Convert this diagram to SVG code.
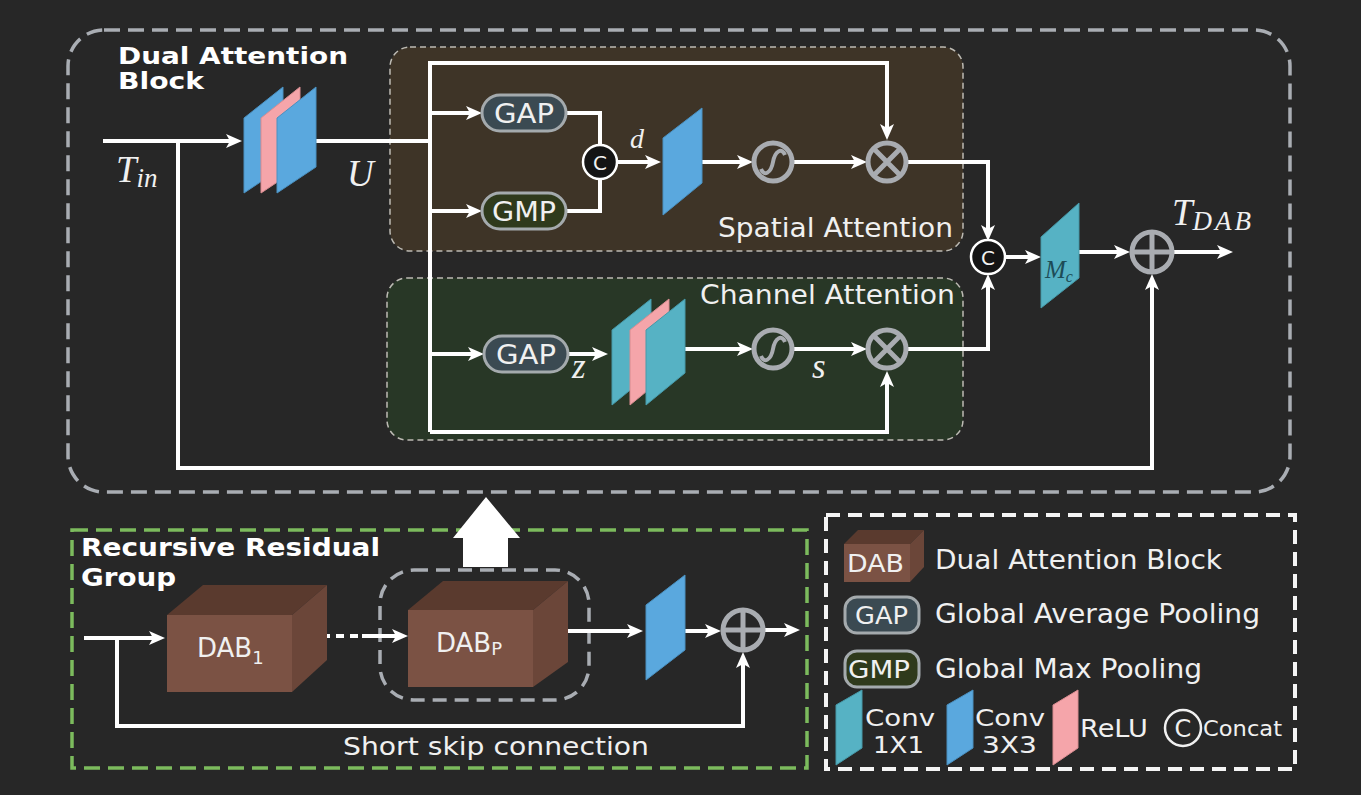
<svg xmlns="http://www.w3.org/2000/svg" width="1361" height="795" viewBox="0 0 1361 795">
<style>
.t{font-family:"DejaVu Sans","Liberation Sans",sans-serif;fill:#f0f0f0}
.b{font-family:"DejaVu Sans","Liberation Sans",sans-serif;font-weight:bold;fill:#ffffff}
.m{font-family:"Liberation Serif","DejaVu Serif",serif;font-style:italic;fill:#f0f0f0}
.ln{fill:none;stroke:#ffffff;stroke-width:4}
.blue{fill:#5aa8de;stroke:#4a90c0;stroke-width:1}
.teal{fill:#56b2c4;stroke:#4699a8;stroke-width:1}
.pink{fill:#f5a5aa;stroke:#d88c90;stroke-width:1}
.gap{fill:#3b4a52;stroke:#a4aaad;stroke-width:3}
.gmp{fill:#2f3a1c;stroke:#a4aaad;stroke-width:3}
.op{fill:none;stroke:#a9acb1;stroke-width:5}
.cc{fill:#141414;stroke:#ffffff;stroke-width:2.5}
.front{fill:#7b5244}
.top{fill:#5a3a2e}
.side{fill:#6b4639}
</style>
<defs>
<marker id="ah" viewBox="0 0 16 14" refX="6" refY="7" markerWidth="16" markerHeight="14" markerUnits="userSpaceOnUse" orient="auto">
<path d="M0,0 L16,7 L0,14 L4,7 z" fill="#ffffff"/>
</marker>
<g id="sig"><circle r="19" class="op" stroke-width="4.5"/><path d="M-12,7 C-9,15 -2,11 0,0 C2,-11 9,-15 12,-7" fill="none" stroke="#a9acb1" stroke-width="4"/></g>
<g id="otimes"><circle r="19" class="op"/><path d="M-13.4,-13.4 L13.4,13.4 M13.4,-13.4 L-13.4,13.4" stroke="#a9acb1" stroke-width="5"/></g>
<g id="oplus"><circle r="20" class="op"/><path d="M-20,0 H20 M0,-20 V20" stroke="#a9acb1" stroke-width="5"/></g>
</defs>
<rect x="0" y="0" width="1361" height="795" fill="#272727"/>

<!-- containers -->
<g id="dab-block">
<rect x="68" y="30" width="1222" height="462" rx="36" fill="none" stroke="#a9adb3" stroke-width="3.5" stroke-dasharray="16 8"/>
<text class="b" x="118" y="64" font-size="23" textLength="230" lengthAdjust="spacingAndGlyphs">Dual Attention</text>
<text class="b" x="118" y="89" font-size="23" textLength="86" lengthAdjust="spacingAndGlyphs">Block</text>
</g>
<g id="spatial-box">
<rect x="390" y="47" width="573" height="204" rx="20" fill="#3e3427" stroke="#bdbbb4" stroke-width="1.5" stroke-dasharray="6 4"/>
<text class="t" x="718" y="237" font-size="26" textLength="235" lengthAdjust="spacingAndGlyphs">Spatial Attention</text>
</g>
<g id="channel-box">
<rect x="387" y="278" width="576" height="162" rx="20" fill="#283726" stroke="#bdbbb4" stroke-width="1.5" stroke-dasharray="6 4"/>
<text class="t" x="700" y="304" font-size="26" textLength="255" lengthAdjust="spacingAndGlyphs">Channel Attention</text>
</g>
<g id="rrg-box">
<rect x="72" y="530" width="735" height="238" fill="none" stroke="#7cbb5d" stroke-width="3.5" stroke-dasharray="16 8"/>
<text class="b" x="81" y="556" font-size="24" textLength="299" lengthAdjust="spacingAndGlyphs">Recursive Residual</text>
<text class="b" x="81" y="586" font-size="24" textLength="95" lengthAdjust="spacingAndGlyphs">Group</text>
</g>
<g id="dabp-box">
<rect x="380" y="570" width="209" height="130" rx="34" fill="none" stroke="#a9adb3" stroke-width="3.5" stroke-dasharray="14 8"/>
</g>
<g id="legend-box">
<rect x="826" y="515" width="469" height="254" fill="none" stroke="#f4f4f4" stroke-width="4" stroke-dasharray="14 8"/>
</g>

<!-- connectors -->
<g id="connectors">
<path class="ln" d="M103,141 H232" marker-end="url(#ah)"/>
<path class="ln" d="M178,141 V468 H1152 V284" marker-end="url(#ah)"/>
<path class="ln" d="M298,141 H430"/>
<path class="ln" d="M430,432 V63 H887 V130" marker-end="url(#ah)"/>
<path class="ln" d="M430,432 H887 V381" marker-end="url(#ah)"/>
<path class="ln" d="M430,113 H472" marker-end="url(#ah)"/>
<path class="ln" d="M430,211 H472" marker-end="url(#ah)"/>
<path class="ln" d="M566,113 H600 V146"/>
<path class="ln" d="M566,211 H600 V178"/>
<path class="ln" d="M617,162 H651" marker-end="url(#ah)"/>
<path class="ln" d="M687,162 H743" marker-end="url(#ah)"/>
<path class="ln" d="M793,162 H857" marker-end="url(#ah)"/>
<path class="ln" d="M908,162 H988 V231" marker-end="url(#ah)"/>
<path class="ln" d="M430,354 H474" marker-end="url(#ah)"/>
<path class="ln" d="M568,354 H598" marker-end="url(#ah)"/>
<path class="ln" d="M672,349 H743" marker-end="url(#ah)"/>
<path class="ln" d="M793,349 H857" marker-end="url(#ah)"/>
<path class="ln" d="M908,349 H988 V284" marker-end="url(#ah)"/>
<path class="ln" d="M1005,257 H1031" marker-end="url(#ah)"/>
<path class="ln" d="M1068,252 H1120" marker-end="url(#ah)"/>
<path class="ln" d="M1174,252 H1223" marker-end="url(#ah)"/>
<path class="ln" d="M84,638 H155" marker-end="url(#ah)"/>
<path class="ln" d="M117,638 V726 H743 V662" marker-end="url(#ah)"/>
<path class="ln" d="M322,636 H330 M336,636 H344 M350,636 H358"/>
<path class="ln" d="M362,636 H398" marker-end="url(#ah)"/>
<path class="ln" d="M565,631 H633" marker-end="url(#ah)"/>
<path class="ln" d="M676,631 H711" marker-end="url(#ah)"/>
<path class="ln" d="M765,630 H790" marker-end="url(#ah)"/>
<polygon points="463,567 508,567 508,538 520,538 486,497 453,538 463,538" fill="#ffffff"/>
</g>

<!-- labels -->
<g id="math-labels">
<text class="m" x="116" y="182" font-size="37">T<tspan font-size="27" dy="5">in</tspan></text>
<text class="m" x="347" y="186" font-size="37">U</text>
<text class="m" x="630" y="148" font-size="28">d</text>
<text class="m" x="572" y="378" font-size="35">z</text>
<text class="m" x="812" y="378" font-size="35">s</text>
<text class="m" x="1172" y="225" font-size="37">T<tspan font-size="27" dy="5" letter-spacing="3">DAB</tspan></text>
</g>

<!-- nodes -->
<g id="conv-stack-in">
<polygon class="blue" points="244,118 283,87 283,167 244,193"/>
<polygon class="pink" points="261,118 300,87 300,167 261,193"/>
<polygon class="blue" points="277,118 316,87 316,167 277,193"/>
</g>
<g id="gap-spatial">
<rect class="gap" x="482" y="95" width="84" height="36" rx="18"/>
<text class="t" x="494" y="123" font-size="26" textLength="60" lengthAdjust="spacingAndGlyphs">GAP</text>
</g>
<g id="gmp-spatial">
<rect class="gmp" x="482" y="193" width="84" height="36" rx="18"/>
<text class="t" x="492" y="221" font-size="26" textLength="64" lengthAdjust="spacingAndGlyphs">GMP</text>
</g>
<g id="concat-spatial">
<circle class="cc" cx="600" cy="162" r="17"/>
<text class="t" x="600" y="169.5" font-size="20" text-anchor="middle">C</text>
</g>
<g id="conv-spatial">
<polygon class="blue" points="663,138 702,108 702,183 663,215"/>
</g>
<g id="sigmoid-spatial"><use href="#sig" x="773" y="162"/></g>
<g id="mult-spatial"><use href="#otimes" x="887" y="162"/></g>

<g id="gap-channel">
<rect class="gap" x="484" y="336" width="84" height="36" rx="18"/>
<text class="t" x="496" y="364" font-size="26" textLength="60" lengthAdjust="spacingAndGlyphs">GAP</text>
</g>
<g id="conv-stack-channel">
<polygon class="teal" points="612,330 651,299 651,373 612,405"/>
<polygon class="pink" points="630,330 669,299 669,373 630,405"/>
<polygon class="teal" points="646,330 685,299 685,373 646,405"/>
</g>
<g id="sigmoid-channel"><use href="#sig" x="773" y="349"/></g>
<g id="mult-channel"><use href="#otimes" x="887" y="349"/></g>

<g id="concat-out">
<circle class="cc" cx="988" cy="257" r="17"/>
<text class="t" x="988" y="264.5" font-size="20" text-anchor="middle">C</text>
</g>
<g id="mc">
<polygon class="teal" points="1041,237 1079,203 1079,278 1041,308"/>
<text x="1045" y="278" font-family="Liberation Serif,serif" font-style="italic" font-size="25" fill="#1d4c57">M<tspan font-size="16" dy="4">c</tspan></text>
</g>
<g id="add-out"><use href="#oplus" x="1152" y="252"/></g>

<g id="dab1">
<polygon class="top" points="167,615 203,585 327,585 292,615"/>
<polygon class="side" points="292,615 327,585 327,660 292,692"/>
<rect class="front" x="167" y="615" width="125" height="77"/>
<text class="t" x="197" y="657" font-size="26">DAB<tspan font-size="18" dy="7">1</tspan></text>
</g>
<g id="dabp">
<polygon class="top" points="408,610 443,581 568,581 533,610"/>
<polygon class="side" points="533,610 568,581 568,662 533,687"/>
<rect class="front" x="408" y="610" width="125" height="77"/>
<text class="t" x="436" y="652" font-size="26">DAB<tspan font-size="18" dy="3">P</tspan></text>
</g>
<g id="conv-rrg">
<polygon class="blue" points="646,605 685,575 685,650 646,680"/>
</g>
<g id="add-rrg"><use href="#oplus" x="743" y="630"/></g>
<g id="skip-label">
<text class="t" x="343" y="755" font-size="25" textLength="306" lengthAdjust="spacingAndGlyphs">Short skip connection</text>
</g>

<!-- legend -->
<g id="legend-dab">
<polygon class="top" points="844,544 858,530 924,530 910,544"/>
<polygon class="side" points="910,544 924,530 924,567 910,582"/>
<rect class="front" x="844" y="544" width="66" height="38"/>
<text class="t" x="847" y="572" font-size="24" textLength="57" lengthAdjust="spacingAndGlyphs" fill="#f3e6e0">DAB</text>
<text class="t" x="935" y="569" font-size="26" textLength="287" lengthAdjust="spacingAndGlyphs">Dual Attention Block</text>
</g>
<g id="legend-gap">
<rect class="gap" x="845" y="597" width="74" height="36" rx="12"/>
<text class="t" x="855" y="624" font-size="25" textLength="53" lengthAdjust="spacingAndGlyphs">GAP</text>
<text class="t" x="935" y="623" font-size="26" textLength="325" lengthAdjust="spacingAndGlyphs">Global Average Pooling</text>
</g>
<g id="legend-gmp">
<rect class="gmp" x="845" y="651" width="74" height="36" rx="12"/>
<text class="t" x="848" y="678" font-size="25" textLength="62" lengthAdjust="spacingAndGlyphs">GMP</text>
<text class="t" x="935" y="678" font-size="26" textLength="267" lengthAdjust="spacingAndGlyphs">Global Max Pooling</text>
</g>
<g id="legend-conv1">
<polygon class="teal" points="836,705 862,690 862,748 836,765"/>
<text class="t" x="865" y="726" font-size="23" textLength="70" lengthAdjust="spacingAndGlyphs">Conv</text>
<text class="t" x="873" y="753" font-size="23" textLength="51" lengthAdjust="spacingAndGlyphs">1X1</text>
</g>
<g id="legend-conv3">
<polygon class="blue" points="947,705 973,690 973,748 947,765"/>
<text class="t" x="975" y="726" font-size="23" textLength="70" lengthAdjust="spacingAndGlyphs">Conv</text>
<text class="t" x="982" y="753" font-size="23" textLength="55" lengthAdjust="spacingAndGlyphs">3X3</text>
</g>
<g id="legend-relu">
<polygon class="pink" points="1053,705 1078,690 1078,748 1053,765"/>
<text class="t" x="1080" y="737" font-size="25" textLength="68" lengthAdjust="spacingAndGlyphs">ReLU</text>
</g>
<g id="legend-concat">
<circle cx="1183" cy="728" r="18" fill="none" stroke="#f0f0f0" stroke-width="2.5"/>
<text class="t" x="1183" y="737" font-size="24" text-anchor="middle">C</text>
<text class="t" x="1203" y="736" font-size="21" textLength="79" lengthAdjust="spacingAndGlyphs">Concat</text>
</g>
</svg>
